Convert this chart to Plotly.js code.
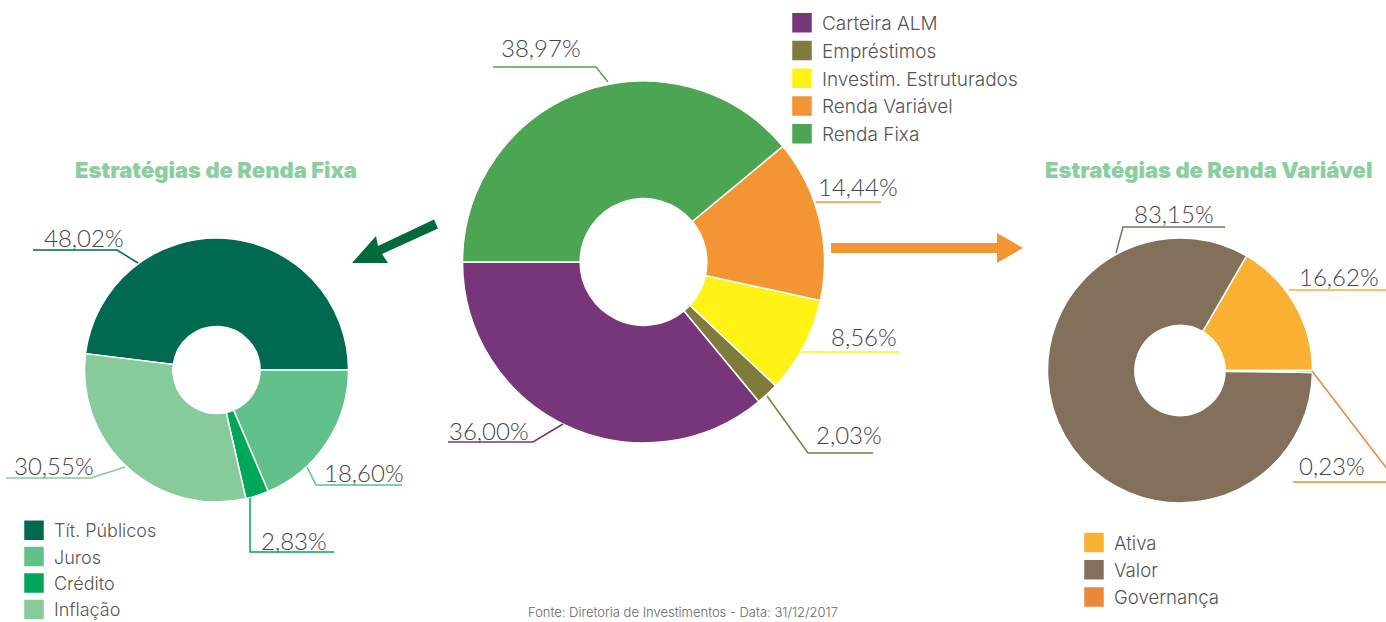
<!DOCTYPE html>
<html>
<head>
<meta charset="utf-8">
<script src="https://cdn.plot.ly/plotly-3.0.1.min.js"></script>
<style>
  html, body { margin: 0; padding: 0; background: #ffffff; }
  #chart { width: 1386px; height: 622px; }
</style>
</head>
<body>
<div id="chart"></div>
<script>
// ---------------- DATA ----------------
const centerLabels = ['Carteira ALM', 'Empréstimos', 'Investim. Estruturados', 'Renda Variável', 'Renda Fixa'];
const centerValues = [36.00, 2.03, 8.56, 14.44, 38.97];

const leftLabels = ['Tít. Públicos', 'Juros', 'Crédito', 'Inflação'];
const leftValues = [48.02, 18.60, 2.83, 30.55];

const rightLabels = ['Ativa', 'Valor', 'Governança'];
const rightValues = [16.62, 83.15, 0.23];

const leftTitle = 'Estratégias de Renda Fixa';
const rightTitle = 'Estratégias de Renda Variável';
const footnote = 'Fonte: Diretoria de Investimentos - Data: 31/12/2017';

// ---------------- STYLE ----------------
const centerColors = ['#77367a', '#7e7b3c', '#fff214', '#f49533', '#4ba553'];
const leftColors = ['#006a50', '#62c08a', '#00a65a', '#87ca9c'];
const rightColors = ['#f8b133', '#82705a', '#e8883a'];

const W = 1386, H = 622;
const px = x => x / W;
const py = y => 1 - y / H;
const FONT = 'Lato, "Open Sans", sans-serif';
const LEGFONT = 'Inter, Lato, sans-serif';
const fmt = v => v.toFixed(2).replace('.', ',') + '%';
const sum = a => a.reduce((s, v) => s + v, 0);

// label positions (pixel centres) and leader-line paths, in slice order
const centerLabelPos = [[489, 430], [849, 434], [864, 336], [858, 186], [541, 47]];
const centerLeaders = [
  [[[448, 442], [533, 442], [563, 424]]],
  [[[767, 396], [808, 453], [873, 453]]],
  [[[802, 352], [899, 352]]],
  [[[816, 202], [881, 202]]],
  [[[493, 67], [596, 67], [608, 82]]]
];
const leftLabelPos = [[84, 238], [364, 473], [294, 540], [54, 466]];
const leftLeaders = [
  [[[33, 250], [117, 250], [138, 263]]],
  [[[307, 467], [316, 485], [402, 485]]],
  [[[250, 498], [250, 552], [334, 552]]],
  [[[6, 478], [91, 478], [125, 467]]]
];
const rightLabelPos = [[1339, 276], [1174, 213], [1332, 466]];
const rightLeaders = [
  [[[1289, 290], [1386, 290]]],
  [[[1116, 253], [1123, 227], [1225, 227]]],
  [[[1312, 371], [1388, 470]], [[1293, 482], [1388, 482]]]
];

// ---------------- TRACES ----------------
const sliceLine = { color: '#ffffff', width: 1.5 };
const traces = [
  {
    type: 'pie', labels: centerLabels, values: centerValues, sort: false,
    direction: 'counterclockwise',
    rotation: 270 - 360 * centerValues[0] / sum(centerValues),
    hole: 0.35, textinfo: 'none', hoverinfo: 'label+percent',
    marker: { colors: centerColors, line: sliceLine },
    domain: { x: [px(462.5), px(824.5)], y: [py(443), py(81)] },
    legend: 'legend'
  },
  {
    type: 'pie', labels: leftLabels, values: leftValues, sort: false,
    direction: 'clockwise',
    rotation: 90 - 360 * leftValues[0] / sum(leftValues),
    hole: 0.33, textinfo: 'none', hoverinfo: 'label+percent',
    marker: { colors: leftColors, line: sliceLine },
    domain: { x: [px(84.5), px(348.5)], y: [py(502), py(238)] },
    legend: 'legend2'
  },
  {
    type: 'pie', labels: rightLabels, values: rightValues, sort: false,
    direction: 'counterclockwise',
    rotation: 90 - 360 * rightValues[0] / sum(rightValues),
    hole: 0.34, textinfo: 'none', hoverinfo: 'label+percent',
    marker: { colors: rightColors, line: sliceLine },
    domain: { x: [px(1047.5), px(1312.5)], y: [py(503), py(238)] },
    legend: 'legend3'
  }
];

// ---------------- ANNOTATIONS / SHAPES ----------------
const annotations = [];
const shapes = [];
const labelFont = { family: FONT, size: 24, color: '#454545', weight: 300 };
const pathOf = segs => segs.map(seg =>
  seg.map((p, k) => (k ? 'L' : 'M') + px(p[0]) + ',' + py(p[1])).join(' ')).join(' ');

function addLabels(values, pos, leaders, colors) {
  values.forEach((v, i) => {
    annotations.push({
      xref: 'paper', yref: 'paper', x: px(pos[i][0]), y: py(pos[i][1]),
      xanchor: 'center', yanchor: 'middle', showarrow: false,
      text: fmt(v), font: labelFont
    });
    shapes.push({ type: 'path', xref: 'paper', yref: 'paper', path: pathOf(leaders[i]),
      line: { color: colors[i], width: 1.5 } });
  });
}
addLabels(centerValues, centerLabelPos, centerLeaders, centerColors);
addLabels(leftValues, leftLabelPos, leftLeaders, leftColors);
addLabels(rightValues, rightLabelPos, rightLeaders, rightColors);

const titleFont = { family: 'Inter, Lato, sans-serif', size: 22, color: '#8bcf9f', weight: 900 };
annotations.push({ xref: 'paper', yref: 'paper', x: px(216), y: py(170), xanchor: 'center', yanchor: 'middle',
  showarrow: false, text: leftTitle, font: titleFont });
annotations.push({ xref: 'paper', yref: 'paper', x: px(1208), y: py(170), xanchor: 'center', yanchor: 'middle',
  showarrow: false, text: rightTitle, font: titleFont });
annotations.push({ xref: 'paper', yref: 'paper', x: px(683), y: 0, xanchor: 'center', yanchor: 'bottom',
  showarrow: false, text: footnote, font: { family: LEGFONT, size: 13, color: '#666666', weight: 300 } });

// arrows
const poly = pts => pts.map((p, k) => (k ? 'L' : 'M') + px(p[0]) + ',' + py(p[1])).join(' ') + ' Z';
shapes.push({ type: 'path', xref: 'paper', yref: 'paper', line: { width: 0 }, fillcolor: '#006a3c',
  path: poly([[438, 228.5], [434, 219.5], [378, 246], [376, 236], [352, 263], [388, 263], [382, 254]]) });
shapes.push({ type: 'path', xref: 'paper', yref: 'paper', line: { width: 0 }, fillcolor: '#f49533',
  path: poly([[831, 243], [997, 243], [997, 233], [1023, 248], [997, 263], [997, 253], [831, 253]]) });

// ---------------- LAYOUT ----------------
const legendBase = { orientation: 'v', xanchor: 'left', yanchor: 'top', bgcolor: 'rgba(0,0,0,0)',
  borderwidth: 0, traceorder: 'normal' };
const legFont = size => ({ family: LEGFONT, size: size, color: '#555555', weight: 300 });

const layout = {
  width: W, height: H,
  margin: { l: 0, r: 0, t: 0, b: 0, autoexpand: false },
  paper_bgcolor: '#ffffff', plot_bgcolor: '#ffffff',
  showlegend: true,
  legend: Object.assign({}, legendBase, { x: px(782), y: py(4), font: legFont(19) }),
  legend2: Object.assign({}, legendBase, { x: px(14), y: py(512), font: legFont(18) }),
  legend3: Object.assign({}, legendBase, { x: px(1074), y: py(524), font: legFont(18.6) }),
  annotations: annotations,
  shapes: shapes
};

function bigSwatches() {
  document.querySelectorAll('#chart .legendpoints path').forEach(p => {
    p.setAttribute('d', 'M10.5,10.5H-10.5V-10.5H10.5Z');
  });
}
Plotly.newPlot('chart', traces, layout, { displayModeBar: false, staticPlot: true }).then(gd => {
  bigSwatches();
  gd.on('plotly_afterplot', bigSwatches);
  setTimeout(bigSwatches, 50);
  setTimeout(bigSwatches, 300);
});
</script>
</body>
</html>
